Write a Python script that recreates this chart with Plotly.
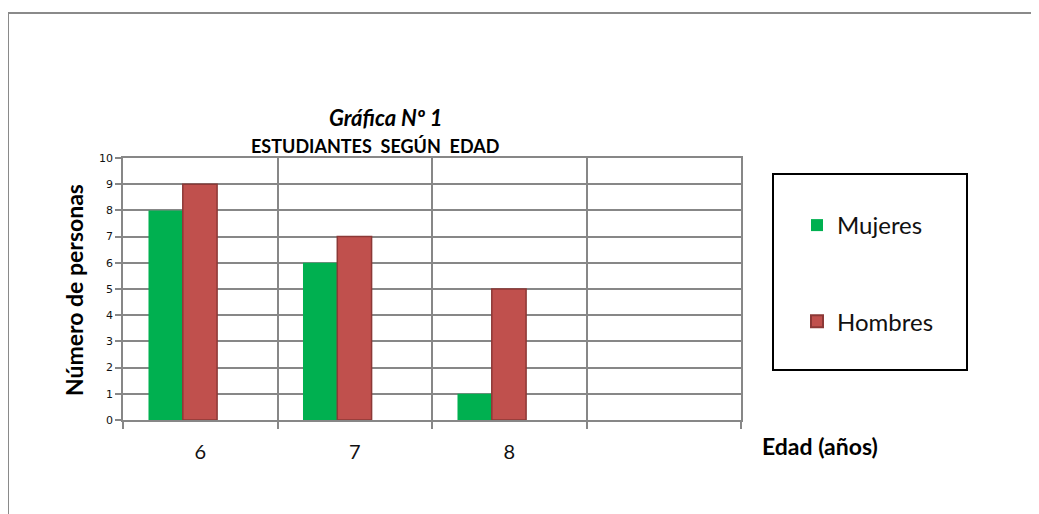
import plotly.graph_objects as go

categorias = ["6", "7", "8", " "]
mujeres = [8, 6, 1, None]
hombres = [9, 7, 5, None]
y_ticks = list(range(0, 11))

# page body adds an 8px margin; work in screen pixels and convert
OFF = 8
W, H = 1039 - OFF, 514 - OFF
L, R, T, B = 123, 741, 158, 420  # plot area in screen pixels

def px(x):
    return (x - L) / (R - L)

def py(y):
    return (B - y) / (B - T)

fig = go.Figure()
fig.add_trace(go.Bar(
    x=categorias, y=mujeres, name="Mujeres",
    marker=dict(color="#00B050", line=dict(width=0)),
    width=0.222, offset=-0.335, legendgroup="m",
))
fig.add_trace(go.Bar(
    x=categorias, y=hombres, name="Hombres",
    marker=dict(color="#C0504D", line=dict(color="#8C3836", width=1.5)),
    width=0.222, offset=-0.113, legendgroup="h",
))

grid = "#878787"
font_main = "Lato, 'Open Sans', sans-serif"

fig.update_layout(
    width=W, height=H,
    margin=dict(l=L - OFF, r=W - (R - OFF), t=T - OFF, b=H - (B - OFF)),
    paper_bgcolor="white", plot_bgcolor="white",
    barmode="overlay",
    showlegend=True,
    legend=dict(
        x=px(797), y=py(203), xanchor="left", yanchor="top",
        font=dict(family=font_main, size=24, color="#111"),
        tracegroupgap=62, traceorder="grouped",
        bgcolor="rgba(0,0,0,0)", borderwidth=0,
        itemsizing="constant",
    ),
    xaxis=dict(
        type="category", categoryorder="array", categoryarray=categorias,
        range=[-0.5, 3.5],
        tickson="boundaries", ticks="outside", ticklen=7, tickwidth=1.5, tickcolor=grid,
        showgrid=True, gridcolor=grid, gridwidth=1.5,
        showline=True, linecolor=grid, linewidth=2, mirror=True,
        tickfont=dict(family=font_main, size=20, color="#111"),
        ticklabelstandoff=13,
        fixedrange=True,
    ),
    yaxis=dict(
        range=[0, 10], tickvals=y_ticks, ticktext=[str(v) for v in y_ticks],
        ticks="outside", ticklen=6, tickwidth=1.5, tickcolor=grid,
        showgrid=True, gridcolor=grid, gridwidth=1.5,
        zeroline=False,
        showline=True, linecolor=grid, linewidth=1.5, mirror=True,
        tickfont=dict(family="'DejaVu Sans', Verdana, sans-serif", size=11, color="#111"),
        fixedrange=True,
    ),
    shapes=[
        dict(type="line", xref="paper", yref="paper",
             x0=px(8), x1=px(1045), y0=py(13), y1=py(13),
             line=dict(color="#8a8a8a", width=2)),
        dict(type="line", xref="paper", yref="paper",
             x0=px(8), x1=px(8), y0=py(13), y1=py(520),
             line=dict(color="#8a8a8a", width=2)),
        dict(type="rect", xref="paper", yref="paper",
             x0=px(773), x1=px(967), y0=py(174), y1=py(370),
             line=dict(color="black", width=2)),
    ],
    annotations=[
        dict(text="<b><i>Gráfica Nº 1</i></b>", xref="paper", yref="paper",
             x=px(386), y=py(117), showarrow=False, xanchor="center", yanchor="middle",
             font=dict(family=font_main, size=22, color="black")),
        dict(text="<b>ESTUDIANTES  SEGÚN  EDAD</b>", xref="paper", yref="paper",
             x=px(375), y=py(146), showarrow=False, xanchor="center", yanchor="middle",
             font=dict(family=font_main, size=18, color="black")),
        dict(text="<b>Número de personas</b>", xref="paper", yref="paper",
             x=px(74), y=py(290), showarrow=False, textangle=-90,
             xanchor="center", yanchor="middle",
             font=dict(family=font_main, size=23, color="black")),
        dict(text="<b>Edad (años)</b>", xref="paper", yref="paper",
             x=px(760), y=py(446), showarrow=False, xanchor="left", yanchor="middle",
             font=dict(family=font_main, size=23, color="black")),
    ],
)

fig.write_html("out.html")
